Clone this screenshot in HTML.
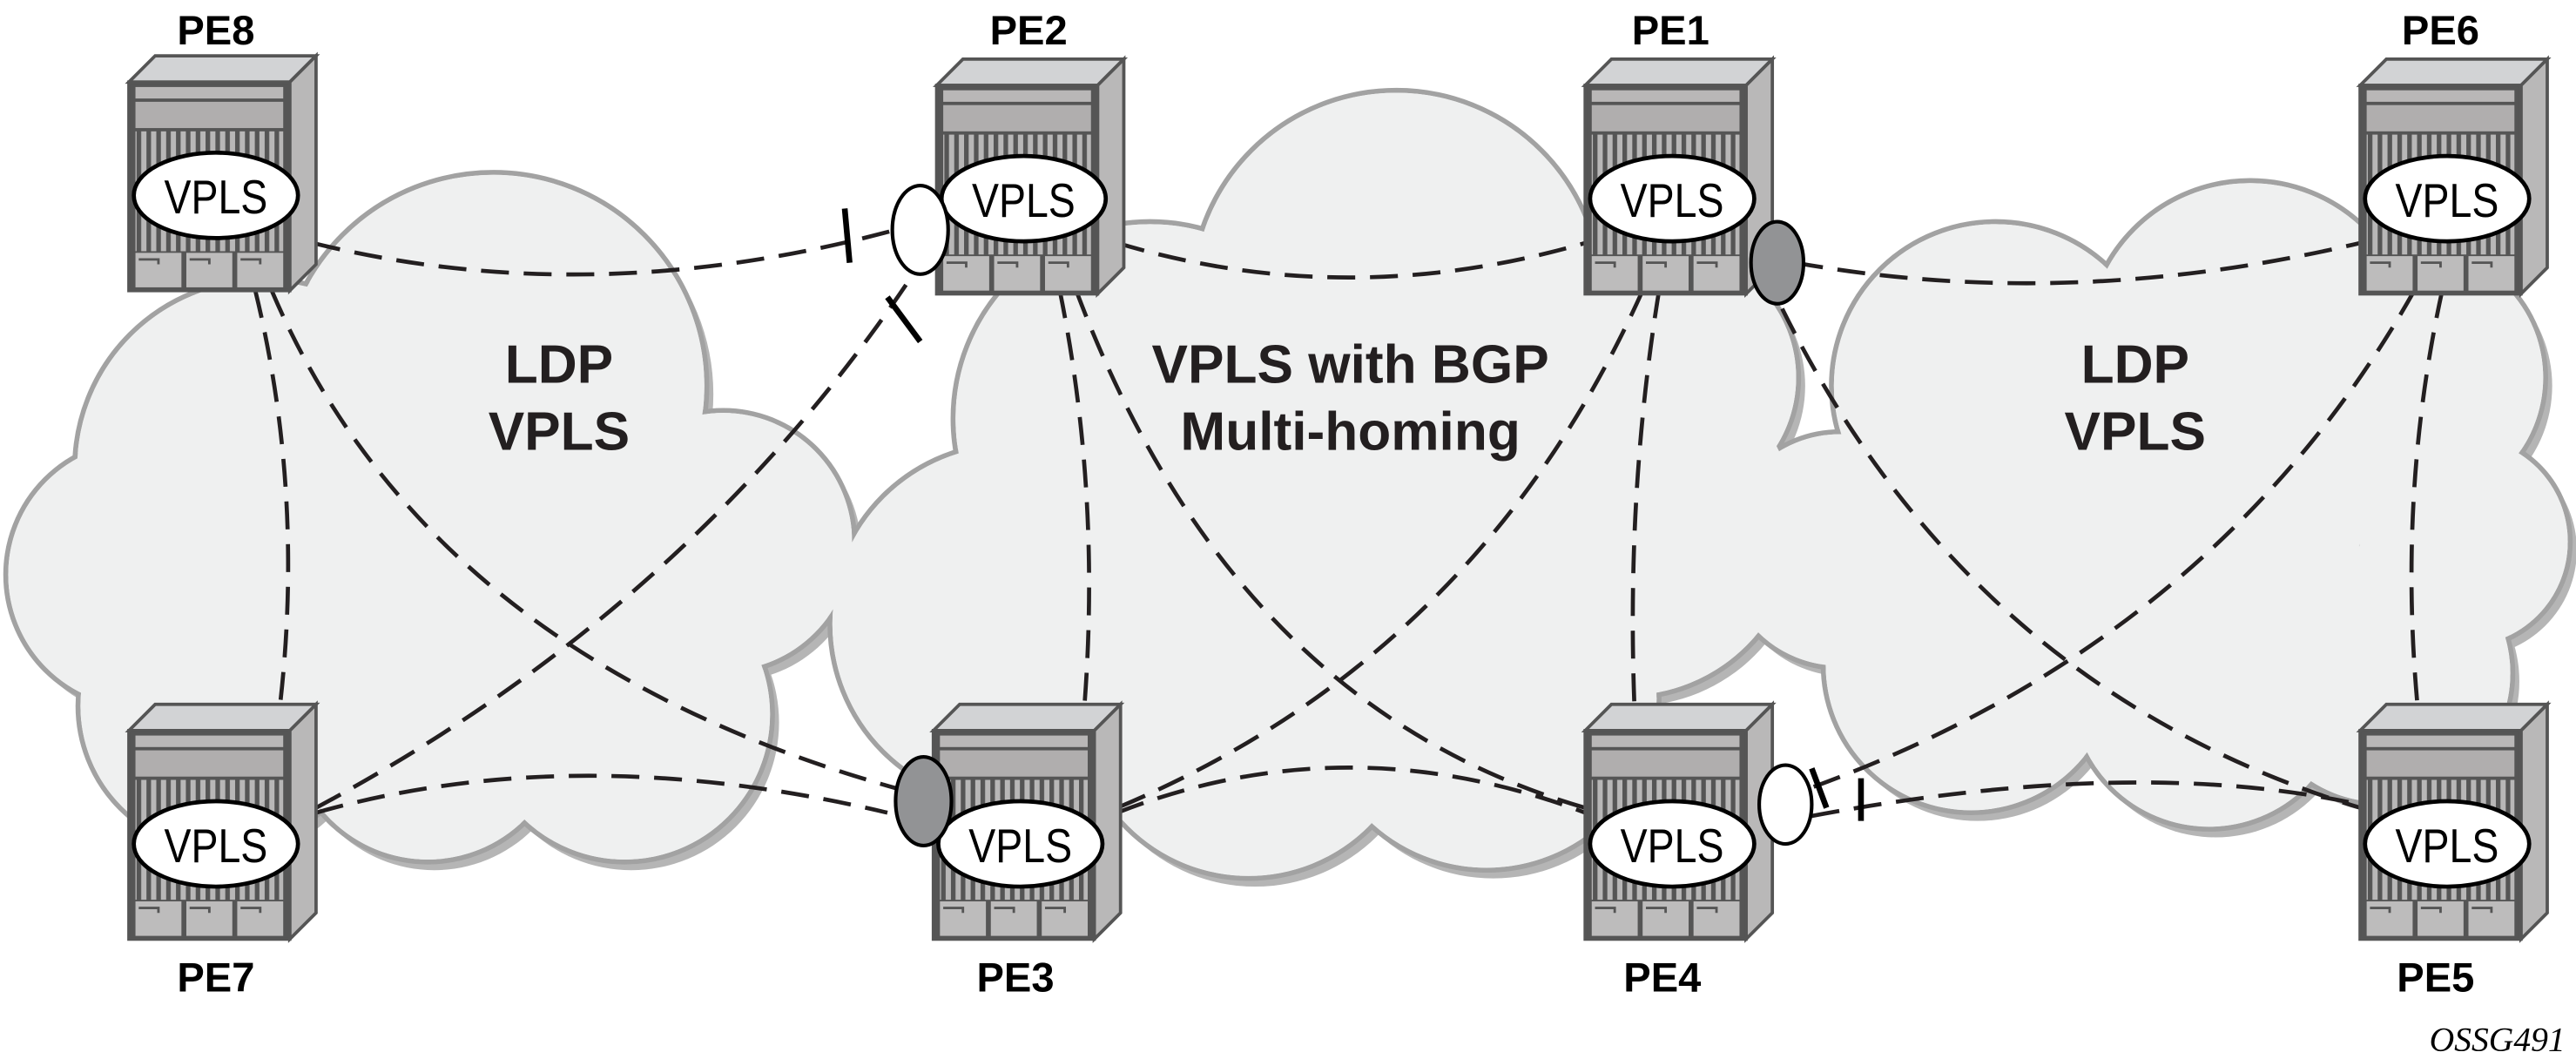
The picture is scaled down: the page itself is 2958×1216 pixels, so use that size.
<!DOCTYPE html>
<html><head><meta charset="utf-8"><style>html,body{margin:0;padding:0;background:#fff}svg{display:block}</style></head>
<body>
<svg width="2958" height="1216" viewBox="0 0 1568 645" xmlns="http://www.w3.org/2000/svg">
<defs>
<pattern id="st" x="0" y="0" width="6" height="10" patternUnits="userSpaceOnUse">
<rect width="6" height="10" fill="#555"/><rect x="1.5" width="3.2" height="10" fill="#b8b7b7"/>
</pattern>
<g id="rt">
<polygon points="0,0 16,-16 114,-16 98,0" fill="#d2d3d5" stroke="#555" stroke-width="2"/>
<polygon points="98,0 114,-16 114,111 98,127" fill="#b9b8b8" stroke="#555" stroke-width="2"/>
<rect x="0" y="0" width="98" height="127" fill="#555" stroke="#555" stroke-width="2"/>
<rect x="4" y="3" width="90" height="7" fill="#b9b7b7"/>
<rect x="4" y="12" width="90" height="16" fill="#b0aeae"/>
<rect x="4" y="30" width="90" height="73" fill="url(#st)"/>
<rect x="4" y="104" width="28" height="21" fill="#bdbcbc"/>
<rect x="35" y="104" width="28" height="21" fill="#bdbcbc"/>
<rect x="66" y="104" width="28" height="21" fill="#bdbcbc"/>
<path d="M6,108h12v3M37,108h12v3M68,108h12v3" stroke="#555" stroke-width="1.5" fill="none"/>
<ellipse cx="53" cy="69" rx="50" ry="26" fill="#fff" stroke="#000" stroke-width="2.5"/>
</g>
</defs>

<g fill="#b5b5b5" transform="translate(4,5)">
<circle cx="300" cy="235" r="130"/><circle cx="160" cy="285" r="115"/><circle cx="85" cy="350" r="82"/><circle cx="135" cy="430" r="88"/><circle cx="260" cy="440" r="85"/><circle cx="380" cy="435" r="90"/><circle cx="440" cy="330" r="80"/><circle cx="240" cy="340" r="120"/>
<circle cx="850" cy="180" r="125"/><circle cx="700" cy="255" r="120"/><circle cx="615" cy="380" r="110"/><circle cx="760" cy="430" r="105"/><circle cx="905" cy="425" r="105"/><circle cx="990" cy="320" r="105"/><circle cx="1015" cy="230" r="80"/><circle cx="820" cy="320" r="140"/>
<circle cx="1215" cy="235" r="100"/><circle cx="1370" cy="210" r="100"/><circle cx="1470" cy="230" r="80"/><circle cx="1500" cy="330" r="65"/><circle cx="1120" cy="335" r="72"/><circle cx="1200" cy="405" r="90"/><circle cx="1345" cy="420" r="85"/><circle cx="1450" cy="410" r="80"/><circle cx="1320" cy="310" r="120"/>
</g>
<g fill="#fff" stroke="#a2a2a2" stroke-width="3">
<circle cx="300" cy="235" r="130"/><circle cx="160" cy="285" r="115"/><circle cx="85" cy="350" r="82"/><circle cx="135" cy="430" r="88"/><circle cx="260" cy="440" r="85"/><circle cx="380" cy="435" r="90"/><circle cx="440" cy="330" r="80"/><circle cx="240" cy="340" r="120"/>
<circle cx="850" cy="180" r="125"/><circle cx="700" cy="255" r="120"/><circle cx="615" cy="380" r="110"/><circle cx="760" cy="430" r="105"/><circle cx="905" cy="425" r="105"/><circle cx="990" cy="320" r="105"/><circle cx="1015" cy="230" r="80"/><circle cx="820" cy="320" r="140"/>
<circle cx="1215" cy="235" r="100"/><circle cx="1370" cy="210" r="100"/><circle cx="1470" cy="230" r="80"/><circle cx="1500" cy="330" r="65"/><circle cx="1120" cy="335" r="72"/><circle cx="1200" cy="405" r="90"/><circle cx="1345" cy="420" r="85"/><circle cx="1450" cy="410" r="80"/><circle cx="1320" cy="310" r="120"/>
</g>
<g fill="#eff0f0">
<circle cx="300" cy="235" r="128.5"/><circle cx="160" cy="285" r="113.5"/><circle cx="85" cy="350" r="80.5"/><circle cx="135" cy="430" r="86.5"/><circle cx="260" cy="440" r="83.5"/><circle cx="380" cy="435" r="88.5"/><circle cx="440" cy="330" r="78.5"/><circle cx="240" cy="340" r="118.5"/>
<circle cx="850" cy="180" r="123.5"/><circle cx="700" cy="255" r="118.5"/><circle cx="615" cy="380" r="108.5"/><circle cx="760" cy="430" r="103.5"/><circle cx="905" cy="425" r="103.5"/><circle cx="990" cy="320" r="103.5"/><circle cx="1015" cy="230" r="78.5"/><circle cx="820" cy="320" r="138.5"/>
<circle cx="1215" cy="235" r="98.5"/><circle cx="1370" cy="210" r="98.5"/><circle cx="1470" cy="230" r="78.5"/><circle cx="1500" cy="330" r="63.5"/><circle cx="1120" cy="335" r="70.5"/><circle cx="1200" cy="405" r="88.5"/><circle cx="1345" cy="420" r="83.5"/><circle cx="1450" cy="410" r="78.5"/><circle cx="1320" cy="310" r="118.5"/>
<circle cx="360" cy="345" r="20"/><circle cx="1440" cy="310" r="20"/>
</g>

<g font-family="Liberation Sans, sans-serif" font-weight="bold" font-size="33" fill="#231f20" text-anchor="middle">
<text x="340" y="233">LDP</text><text x="340" y="274">VPLS</text>
<text x="822" y="233">VPLS with BGP</text><text x="822" y="274">Multi-homing</text>
<text x="1300" y="233">LDP</text><text x="1300" y="274">VPLS</text>
</g>

<g fill="none" stroke="#231f20" stroke-width="2.5" stroke-dasharray="17,9">
<path d="M190,148 Q360,190 545,140"/>
<path d="M155,177 Q185,300 170,430"/>
<path d="M165,177 Q260,400 545,480"/>
<path d="M192,492 Q420,370 555,168"/>
<path d="M192,495 Q350,450 540,495"/>
<path d="M680,148 Q820,190 965,148"/>
<path d="M645,177 Q670,300 660,430"/>
<path d="M655,177 Q750,430 965,492"/>
<path d="M1000,177 Q900,400 680,492"/>
<path d="M1010,177 Q990,300 995,430"/>
<path d="M680,495 Q820,440 965,495"/>
<path d="M1093,160 Q1260,190 1437,148"/>
<path d="M1085,188 Q1200,420 1437,492"/>
<path d="M1470,177 Q1350,390 1102,480"/>
<path d="M1487,177 Q1460,300 1472,430"/>
<path d="M1103,497 Q1300,460 1437,490"/>
</g>
<g stroke="#000" stroke-width="3.5">
<line x1="514" y1="127" x2="517" y2="160"/>
<line x1="540" y1="181" x2="560" y2="208"/>
<line x1="1103" y1="468" x2="1112" y2="492"/>
<line x1="1133" y1="474" x2="1133" y2="500"/>
</g>

<use href="#rt" x="78" y="50"/>
<use href="#rt" x="570" y="52"/>
<use href="#rt" x="965" y="52"/>
<use href="#rt" x="1437" y="52"/>
<use href="#rt" x="78" y="445"/>
<use href="#rt" x="568" y="445"/>
<use href="#rt" x="965" y="445"/>
<use href="#rt" x="1437" y="445"/>

<g font-family="Liberation Sans, sans-serif" font-size="29" fill="#000" text-anchor="middle" transform="scale(0.85,1)">
<text x="154.1" y="130">VPLS</text><text x="732.9" y="132">VPLS</text><text x="1197.6" y="132">VPLS</text><text x="1752.9" y="132">VPLS</text>
<text x="154.1" y="525">VPLS</text><text x="730.6" y="525">VPLS</text><text x="1197.6" y="525">VPLS</text><text x="1752.9" y="525">VPLS</text>
</g>

<ellipse cx="560" cy="140" rx="17" ry="27" fill="#fff" stroke="#000" stroke-width="2.2"/>
<ellipse cx="562" cy="488" rx="17" ry="27" fill="#929395" stroke="#000" stroke-width="2.2"/>
<ellipse cx="1082" cy="160" rx="16" ry="25" fill="#929395" stroke="#000" stroke-width="2.2"/>
<ellipse cx="1087" cy="490" rx="16" ry="24" fill="#fff" stroke="#000" stroke-width="2.2"/>

<g font-family="Liberation Sans, sans-serif" font-weight="bold" font-size="25" fill="#000" text-anchor="middle">
<text x="131" y="27">PE8</text><text x="626" y="27">PE2</text><text x="1017" y="27">PE1</text><text x="1486" y="27">PE6</text>
<text x="131" y="604">PE7</text><text x="618" y="604">PE3</text><text x="1012" y="604">PE4</text><text x="1483" y="604">PE5</text>
</g>
<text x="1562" y="640" font-family="Liberation Serif, serif" font-style="italic" font-size="21" text-anchor="end" fill="#000">OSSG491</text>
</svg>
</body></html>
